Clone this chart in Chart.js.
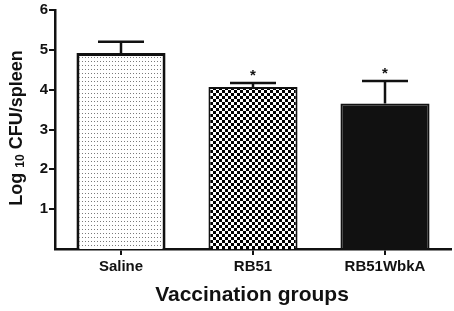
<!DOCTYPE html>
<html><head><meta charset="utf-8">
<script src="https://cdn.jsdelivr.net/npm/chart.js@4/dist/chart.umd.min.js"></script>
<style>html,body{margin:0;padding:0;background:#fff;}#wrap{width:454px;height:311px;}</style>
</head><body><div id="wrap"><canvas id="c" width="454" height="311"></canvas></div>
<script>
const categories = ['Saline', 'RB51', 'RB51WbkA'];
const means = [4.92, 4.07, 3.65];
const errors = [0.28, 0.10, 0.57];
const significant = [false, true, true];
const yTicks = [1, 2, 3, 4, 5, 6];
const xTitle = 'Vaccination groups';
const yTitleParts = ['Log ', '10', ' CFU/spleen'];

function dotPattern() {
  const c = document.createElement('canvas'); c.width = 3; c.height = 4;
  const x = c.getContext('2d');
  x.fillStyle = '#fff'; x.fillRect(0, 0, 3, 4);
  x.fillStyle = '#7a7a7a'; x.fillRect(1, 1, 1, 1);
  return x.createPattern(c, 'repeat');
}
function checkPattern() {
  const c = document.createElement('canvas'); c.width = 6; c.height = 6;
  const x = c.getContext('2d');
  x.fillStyle = '#fff'; x.fillRect(0, 0, 6, 6);
  x.fillStyle = '#000'; x.fillRect(0, 0, 3, 3); x.fillRect(3, 3, 3, 3);
  return x.createPattern(c, 'repeat');
}

const FONT = '"Liberation Sans", Arial, sans-serif';

const extras = {
  id: 'extras',
  afterDatasetsDraw(chart) {
    const ctx = chart.ctx, y = chart.scales.y, meta = chart.getDatasetMeta(0);
    ctx.save();
    ctx.strokeStyle = '#111'; ctx.lineWidth = 2.5; ctx.lineCap = 'butt';
    meta.data.forEach((bar, i) => {
      const top = y.getPixelForValue(means[i] + errors[i]);
      const base = y.getPixelForValue(means[i]);
      ctx.beginPath();
      ctx.moveTo(bar.x, base); ctx.lineTo(bar.x, top);
      ctx.moveTo(bar.x - 23, top); ctx.lineTo(bar.x + 23, top);
      ctx.stroke();
      if (significant[i]) {
        ctx.fillStyle = '#111';
        ctx.font = 'bold 15px ' + FONT;
        ctx.textAlign = 'center'; ctx.textBaseline = 'middle';
        ctx.fillText('*', bar.x, top - 7);
      }
    });
    // x title
    ctx.fillStyle = '#111';
    ctx.font = 'bold 21px ' + FONT;
    ctx.textAlign = 'center'; ctx.textBaseline = 'middle';
    ctx.fillText(xTitle, 252, 295);
    // y title with subscript
    ctx.translate(17, 128);
    ctx.rotate(-Math.PI / 2);
    const big = 'bold 18px ' + FONT, small = 'bold 12px ' + FONT;
    ctx.font = big; const w0 = ctx.measureText(yTitleParts[0]).width;
    ctx.font = small; const w1 = ctx.measureText(yTitleParts[1]).width;
    ctx.font = big; const w2 = ctx.measureText(yTitleParts[2]).width;
    let x0 = -(w0 + w1 + w2) / 2;
    ctx.textAlign = 'left'; ctx.textBaseline = 'middle';
    ctx.font = big; ctx.fillText(yTitleParts[0], x0, 0);
    ctx.font = small; ctx.fillText(yTitleParts[1], x0 + w0, 4);
    ctx.font = big; ctx.fillText(yTitleParts[2], x0 + w0 + w1, 0);
    ctx.restore();
  }
};

new Chart(document.getElementById('c'), {
  type: 'bar',
  data: {
    labels: categories,
    datasets: [{
      data: means,
      backgroundColor: [dotPattern(), checkPattern(), '#111'],
      borderColor: '#111',
      borderWidth: [3, 2, 2],
      borderSkipped: 'bottom',
      barPercentage: 0.675,
      categoryPercentage: 1.0
    }]
  },
  options: {
    responsive: false,
    animation: false,
    layout: { padding: { top: 9, right: 3, left: 0, bottom: 0 } },
    plugins: { legend: { display: false }, tooltip: { enabled: false } },
    scales: {
      x: {
        grid: { display: true, offset: false, drawOnChartArea: false, drawTicks: true, tickLength: 6, color: '#111', lineWidth: 2 },
        border: { display: true, color: '#111', width: 2.5 },
        ticks: { color: '#111', font: { family: FONT, size: 15, weight: 'bold' }, padding: 3 },
        afterFit(s) { s.height = 62; }
      },
      y: {
        min: 0, max: 6,
        afterBuildTicks(s) { s.ticks = yTicks.map(v => ({ value: v })); },
        grid: { display: true, drawOnChartArea: false, drawTicks: true, tickLength: 6, color: '#111', lineWidth: 2 },
        border: { display: true, color: '#111', width: 2.5 },
        ticks: { color: '#111', font: { family: FONT, size: 15, weight: 'bold' }, padding: 1 },
        afterFit(s) { s.width = 55; }
      }
    }
  },
  plugins: [extras]
});
</script></body></html>
